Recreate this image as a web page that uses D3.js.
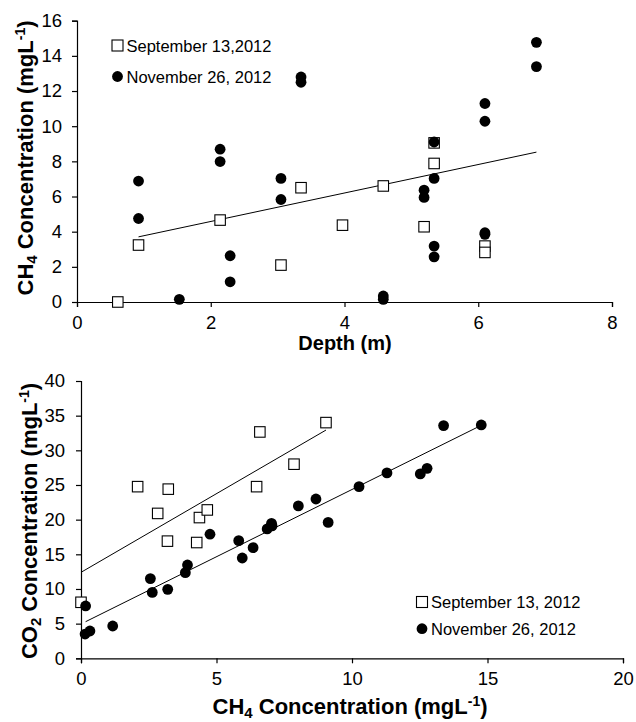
<!DOCTYPE html>
<html><head><meta charset="utf-8">
<script src="https://cdn.jsdelivr.net/npm/d3@7"></script>
<style>
body{margin:0;background:#fff;}
svg{display:block;font-family:"Liberation Sans",Arial,sans-serif;}
</style></head>
<body><svg id="c" width="636" height="722"></svg>
<script>
// ---- Top chart: CH4 vs depth ----
const depthSep = [0.61, 0.92, 2.14, 3.05, 3.35, 3.97, 4.58, 5.19, 5.34, 5.34, 6.1, 6.1];
const ch4Sep   = [0, 3.24, 4.66, 2.1, 6.5, 4.37, 6.6, 4.28, 7.88, 9.05, 3.18, 2.82];
const depthNov = [0.92,0.92,1.53,2.14,2.14,2.29,2.29,3.05,3.05,3.35,3.35,4.58,4.58,5.19,5.19,5.34,5.34,5.34,5.34,6.1,6.1,6.1,6.1,6.87,6.87];
const ch4Nov   = [6.88,4.75,0.15,8.69,7.99,2.63,1.15,7.03,5.83,12.8,12.5,0.34,0.15,6.36,5.95,9.1,7.03,3.18,2.57,11.29,10.28,3.94,3.85,14.77,13.39];
const topXTicks = [0,2,4,6,8];
const topYTicks = [0,2,4,6,8,10,12,14,16];
// trendline: [slope, intercept, xStart, xEnd]
const trendTop = [0.81, 2.96, 0.92, 6.87];

// ---- Bottom chart: CO2 vs CH4 ----
const ch4SepB = [0,2.09,2.83,3.22,3.19,4.27,4.37,4.66,6.48,6.6,7.86,9.04];
const co2Sep  = [8.08,24.76,20.9,24.4,16.9,16.7,20.3,21.4,24.76,32.65,28.0,34.0];
const ch4NovB = [0.17,0.15,0.33,1.17,2.56,2.63,3.2,3.85,3.93,4.76,5.82,5.95,6.35,6.87,7.03,7.05,8.02,8.67,9.12,10.26,11.29,12.52,12.77,13.38,14.77];
const co2Nov  = [7.55,3.5,3.94,4.66,11.5,9.5,9.95,12.35,13.46,17.9,16.97,14.47,15.96,18.66,19.47,19.1,21.98,22.98,19.6,24.76,26.74,26.6,27.4,33.57,33.66];
const botXTicks = [0,5,10,15,20];
const botYTicks = [0,5,10,15,20,25,30,35,40];
const trendSepB = [2.27, 12.4, 0, 9.04];
const trendNovB = [1.94, 4.95, 0.17, 14.77];

const legendSepTop = "September 13,2012";
const legendNovTop = "November 26, 2012";
const legendSepBot = "September 13, 2012";
const legendNovBot = "November 26, 2012";

const svg = d3.select("#c");

function drawPanel(opt){
  const x = d3.scaleLinear().domain(opt.xDom).range(opt.xRange);
  const y = d3.scaleLinear().domain(opt.yDom).range(opt.yRange);
  const g = svg.append("g");
  const ax = g.append("g").attr("transform",`translate(0,${opt.yRange[0]})`)
    .call(d3.axisBottom(x).tickValues(opt.xTicks).tickSizeOuter(0).tickSize(5).tickPadding(opt.xPad).tickFormat(d3.format("d")));
  const ay = g.append("g").attr("transform",`translate(${opt.xRange[0]},0)`)
    .call(d3.axisLeft(y).tickValues(opt.yTicks).tickSizeOuter(0).tickSize(5).tickPadding(opt.yPad).tickFormat(d3.format("d")));
  [ax,ay].forEach(a=>{
    a.selectAll("path,line").attr("stroke","#000").attr("stroke-width",1.2);
    a.selectAll("text").attr("font-size",18.5).attr("fill","#000").attr("font-family","Liberation Sans, Arial, sans-serif");
  });
  opt.trends.forEach(t=>{
    g.append("line")
      .attr("x1",x(t[2])).attr("y1",y(t[0]*t[2]+t[1]))
      .attr("x2",x(t[3])).attr("y2",y(t[0]*t[3]+t[1]))
      .attr("stroke","#000").attr("stroke-width",1);
  });
  const s = 10.5;
  g.append("g").selectAll("rect").data(d3.zip(opt.sx,opt.sy)).join("rect")
    .attr("x",d=>x(d[0])-s/2).attr("y",d=>y(d[1])-s/2)
    .attr("width",s).attr("height",s)
    .attr("fill","#fff").attr("stroke","#000").attr("stroke-width",1.1);
  g.append("g").selectAll("circle").data(d3.zip(opt.nx,opt.ny)).join("circle")
    .attr("cx",d=>x(d[0])).attr("cy",d=>y(d[1])).attr("r",5.4).attr("fill","#000");
  const L = opt.legend;
  g.append("rect").attr("x",L.x-5.5).attr("y",L.y1-5.5).attr("width",11).attr("height",11)
    .attr("fill","#fff").attr("stroke","#000").attr("stroke-width",1.1);
  g.append("text").attr("x",L.x+9).attr("y",L.y1+6).attr("font-size",16.5).text(L.t1);
  g.append("circle").attr("cx",L.x).attr("cy",L.y2).attr("r",5.4).attr("fill","#000");
  g.append("text").attr("x",L.x+9).attr("y",L.y2+6).attr("font-size",16.5).text(L.t2);
  return {x,y,g};
}

drawPanel({xDom:[0,8],xRange:[77,612],yDom:[0,16],yRange:[302,20.7],
  xTicks:topXTicks,yTicks:topYTicks,xPad:9,yPad:10,
  sx:depthSep,sy:ch4Sep,nx:depthNov,ny:ch4Nov,trends:[trendTop],
  legend:{x:117.5,y1:45.5,y2:76.5,t1:legendSepTop,t2:legendNovTop}});

drawPanel({xDom:[0,20],xRange:[81,623],yDom:[0,40],yRange:[658.3,381],
  xTicks:botXTicks,yTicks:botYTicks,xPad:9,yPad:11,
  sx:ch4SepB,sy:co2Sep,nx:ch4NovB,ny:co2Nov,trends:[trendSepB,trendNovB],
  legend:{x:422,y1:602,y2:628.7,t1:legendSepBot,t2:legendNovBot}});

function chemTitle(sel, parts){
  parts.forEach(p=>{
    const t = sel.append("tspan").text(p[0]);
    if(p[1]==="sub"){ t.attr("font-size",15).attr("dy",4); }
    else if(p[1]==="sup"){ t.attr("font-size",14).attr("dy",-8); }
    else if(p[1]==="back"){ t.attr("dy",p[2]); }
  });
}
function title(x,y,rot){
  return svg.append("text").attr("text-anchor","middle")
    .attr("transform",`translate(${x},${y})`+(rot?" rotate(-90)":""))
    .attr("font-size",22).attr("font-weight","bold").attr("fill","#000");
}
chemTitle(title(33,158,true),[["CH"],["4","sub"],[" Concentration (mgL","back",-4],["-1","sup"],[")","back",8]]);
svg.append("text").attr("x",345).attr("y",350).attr("text-anchor","middle")
  .attr("font-size",20).attr("font-weight","bold").text("Depth (m)");
chemTitle(title(37,521,true),[["CO"],["2","sub"],[" Concentration (mgL","back",-4],["-1","sup"],[")","back",8]]);
chemTitle(title(350,714,false),[["CH"],["4","sub"],[" Concentration (mgL","back",-4],["-1","sup"],[")","back",8]]);
</script></body></html>
